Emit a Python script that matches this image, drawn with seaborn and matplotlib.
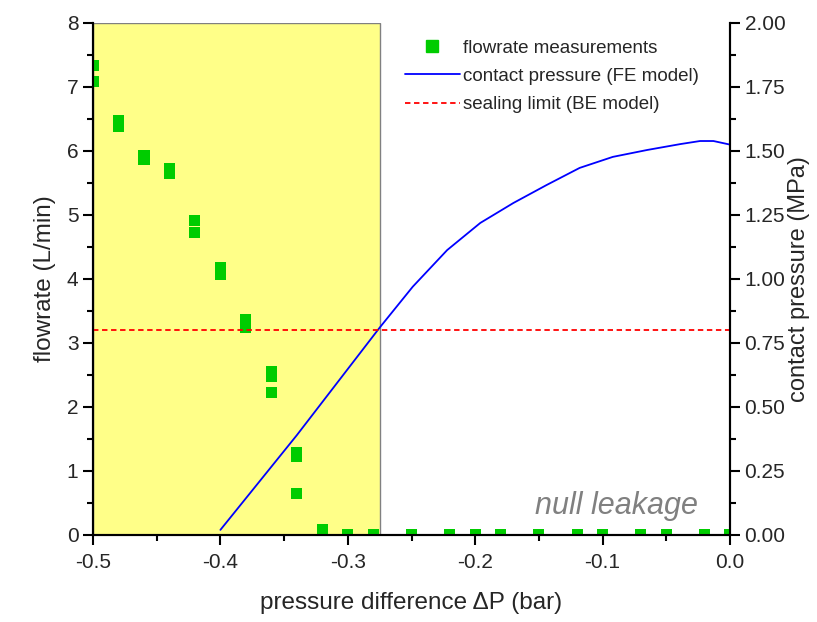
import matplotlib
matplotlib.use("Agg")
import matplotlib.pyplot as plt
import seaborn as sns
import pandas as pd
from matplotlib.ticker import MultipleLocator, FormatStrFormatter
from matplotlib.patches import Rectangle
from matplotlib.lines import Line2D

# --- data ---
dp_meas = [-0.50, -0.50, -0.48, -0.48, -0.46, -0.46, -0.44, -0.44, -0.42, -0.42,
           -0.40, -0.40, -0.38, -0.38, -0.36, -0.36, -0.36, -0.34, -0.34, -0.34,
           -0.32, -0.30, -0.28, -0.25, -0.22, -0.20, -0.18, -0.15, -0.12, -0.10,
           -0.07, -0.05, -0.02, 0.00]
flowrate = [7.34, 7.09, 6.48, 6.38, 5.93, 5.87, 5.73, 5.65, 4.91, 4.73,
            4.18, 4.07, 3.37, 3.24, 2.55, 2.48, 2.22, 1.29, 1.23, 0.65,
            0.09, 0.0, 0.0, 0.0, 0.0, 0.0, 0.0, 0.0, 0.0, 0.0,
            0.0, 0.0, 0.0, 0.0]

dp_fe = [-0.40, -0.34, -0.275, -0.249, -0.222, -0.196, -0.170, -0.144, -0.118,
         -0.092, -0.065, -0.039, -0.0235, -0.013, 0.0]
contact_p = [0.02, 0.39, 0.81, 0.97, 1.113, 1.219, 1.297, 1.367, 1.434,
             1.477, 1.504, 1.527, 1.539, 1.539, 1.525]

sealing_limit = 0.80       # MPa
leak_region = (-0.5, -0.275)

sns.set_theme(style="ticks")
plt.rcParams['font.family'] = ['Liberation Sans', 'DejaVu Sans']

fig = plt.figure(figsize=(8.17, 6.22), dpi=100)
ax = fig.add_axes([93/817, 1-535/622, (730-93)/817, (535-23)/622])
ax2 = ax.twinx()

# yellow leakage region
ax.add_patch(Rectangle((leak_region[0], 0), leak_region[1]-leak_region[0], 8,
                       facecolor='#FFFF88', edgecolor='#808080', lw=1.0, zorder=0))

df_m = pd.DataFrame({'dp': dp_meas, 'q': flowrate})
sns.scatterplot(data=df_m, x='dp', y='q', ax=ax, marker='s', s=64,
                color='#00CC00', edgecolor='none', linewidth=0, zorder=3)

df_fe = pd.DataFrame({'dp': dp_fe, 'p': contact_p})
sns.lineplot(data=df_fe, x='dp', y='p', ax=ax2, color='#0000FF', lw=1.3)
ax2.axhline(sealing_limit, color='#FF0000', ls=(0, (3, 2)), lw=1.3)

ax.set_xlim(-0.5, 0.0)
ax.set_ylim(0, 8)
ax2.set_ylim(0, 2.0)

ax.xaxis.set_major_locator(MultipleLocator(0.1))
ax.xaxis.set_minor_locator(MultipleLocator(0.05))
ax.xaxis.set_major_formatter(FormatStrFormatter('%.1f'))
ax.yaxis.set_major_locator(MultipleLocator(1))
ax.yaxis.set_minor_locator(MultipleLocator(0.5))
ax2.yaxis.set_major_locator(MultipleLocator(0.25))
ax2.yaxis.set_minor_locator(MultipleLocator(0.125))
ax2.yaxis.set_major_formatter(FormatStrFormatter('%.2f'))

for a in (ax, ax2):
    a.spines['top'].set_visible(False)
    a.tick_params(which='major', direction='out', length=7, width=1.5, labelsize=15, color='black')
    a.tick_params(which='minor', direction='out', length=4, width=1.5, color='black')
    for s in a.spines.values():
        s.set_linewidth(1.5)
        s.set_color('black')
ax.tick_params(axis='x', pad=6)
ax.set_xlabel('pressure difference ΔP (bar)', fontsize=17.5, labelpad=14)
ax.set_ylabel('flowrate (L/min)', fontsize=17.5, labelpad=8)
ax2.set_ylabel('contact pressure (MPa)', fontsize=17, labelpad=2)

ax.text(-0.089, 0.22, 'null leakage', style='italic', color='#808080',
        fontsize=22, ha='center', va='bottom')

handles = [Line2D([], [], marker='s', color='#00CC00', ls='none', markersize=8),
           Line2D([], [], color='#0000FF', lw=1.3),
           Line2D([], [], color='#FF0000', ls=(0, (3, 2)), lw=1.3)]
labels = ['flowrate measurements', 'contact pressure (FE model)', 'sealing limit (BE model)']
ax2.legend(handles, labels, loc='upper left', bbox_to_anchor=(0.49, 0.968),
           frameon=False, fontsize=13.5, handlelength=2.9, handletextpad=0.2,
           labelspacing=0.6, borderpad=0, borderaxespad=0)

fig.savefig('out.png', dpi=100)
